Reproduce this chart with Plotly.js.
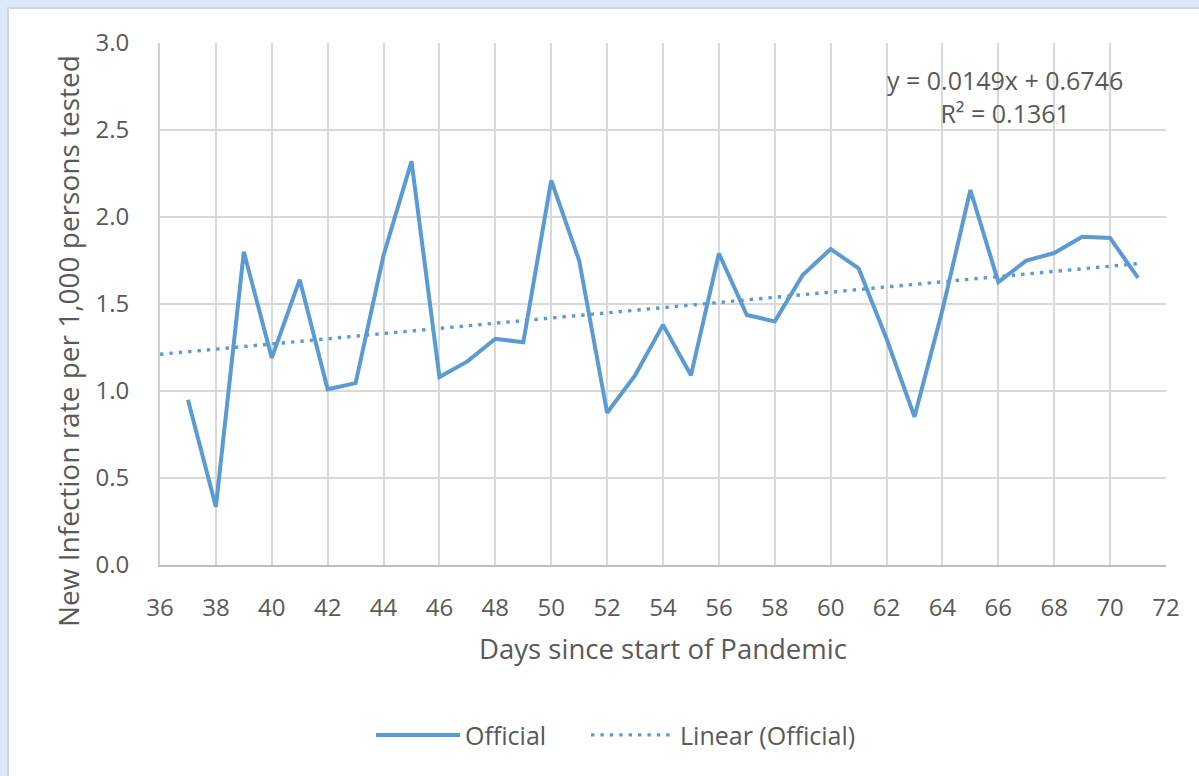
<!DOCTYPE html>
<html>
<head>
<meta charset="utf-8">
<script src="https://cdn.plot.ly/plotly-3.0.1.min.js"></script>
<style>
  html, body { margin: 0; padding: 0; background: #dce9fa; width: 1199px; height: 776px; overflow: hidden; }
  #frame { position: absolute; left: 7px; top: 7px; width: 1200px; height: 780px; background: #ffffff; border-left: 2px solid #d4d4d4; border-top: 2px solid #d4d4d4; }
  #chart { position: absolute; left: 0; top: 0; width: 1199px; height: 776px; }
</style>
</head>
<body>
<div id="frame"></div>
<div id="chart"></div>
<script>
const days = [37,38,39,40,41,42,43,44,45,46,47,48,49,50,51,52,53,54,55,56,57,58,59,60,61,62,63,64,65,66,67,68,69,70,71];
const officialRate = [0.95,0.335,1.80,1.19,1.64,1.01,1.045,1.78,2.32,1.08,1.17,1.30,1.28,2.21,1.75,0.875,1.09,1.38,1.09,1.79,1.437,1.40,1.667,1.816,1.705,1.30,0.852,1.465,2.155,1.626,1.749,1.793,1.887,1.879,1.65];
const trendDays = [36, 71];
const trendRate = [1.211, 1.732];
const xTicks = [36,38,40,42,44,46,48,50,52,54,56,58,60,62,64,66,68,70,72];
const yTicks = [0,0.5,1.0,1.5,2.0,2.5,3.0];
const equationText = 'y = 0.0149x + 0.6746<br>R² = 0.1361';
const yTitleText = 'New Infection rate per 1,000 persons tested';
const xTitleText = 'Days since start of Pandemic';

const blue = '#5b9bd5';
const textGray = '#595959';
const fontFam = '"Open Sans", sans-serif';

const traces = [
  { x: days, y: officialRate, type: 'scatter', mode: 'lines', name: 'Official',
    line: { color: blue, width: 4 }, legend: 'legend' },
  { x: trendDays, y: trendRate, type: 'scatter', mode: 'lines', name: 'Linear (Official)',
    line: { color: blue, width: 3.4, dash: '3.4px,6px' }, legend: 'legend2' }
];

const legendBase = { orientation: 'h', xanchor: 'left', y: -0.326, yanchor: 'middle',
                     font: { family: fontFam, size: 25, color: textGray }, itemwidth: 84,
                     bgcolor: 'rgba(0,0,0,0)' };

const layout = {
  width: 1199, height: 776,
  paper_bgcolor: 'rgba(0,0,0,0)', plot_bgcolor: '#ffffff',
  margin: { l: 160, r: 33, t: 43, b: 211 },
  font: { family: fontFam, size: 24, color: textGray },
  showlegend: true,
  legend: Object.assign({}, legendBase, { x: 0.2098 }),
  legend2: Object.assign({}, legendBase, { x: 0.4235 }),
  xaxis: {
    range: [36, 72], tickvals: xTicks, ticktext: xTicks.map(String),
    showgrid: true, gridcolor: '#d9d9d9', gridwidth: 2,
    showline: true, linecolor: '#bfbfbf', linewidth: 2, zeroline: false,
    ticks: '', ticklabelstandoff: 20,
    tickfont: { family: fontFam, size: 24, color: textGray },
    title: { text: xTitleText, standoff: 18,
             font: { family: fontFam, size: 27.5, color: textGray } }
  },
  yaxis: {
    range: [0, 3], tickvals: yTicks, ticktext: yTicks.map(v => v.toFixed(1)),
    showgrid: true, gridcolor: '#d9d9d9', gridwidth: 2,
    showline: true, linecolor: '#d0d0d0', linewidth: 2, zeroline: false,
    ticks: '', ticklabelstandoff: 24,
    tickfont: { family: fontFam, size: 24, color: textGray }
  },
  annotations: [
    { xref: 'x', yref: 'y', x: 66.24, y: 2.69, text: equationText, showarrow: false,
      xanchor: 'center', yanchor: 'middle', align: 'center',
      font: { family: fontFam, size: 25, color: textGray } },
    { xref: 'paper', yref: 'paper', x: -0.0915, y: 0.429, text: yTitleText, showarrow: false,
      textangle: -90, xanchor: 'center', yanchor: 'middle',
      font: { family: fontFam, size: 28, color: textGray } }
  ]
};

Plotly.newPlot('chart', traces, layout, { displayModeBar: false, staticPlot: true });
</script>
</body>
</html>
